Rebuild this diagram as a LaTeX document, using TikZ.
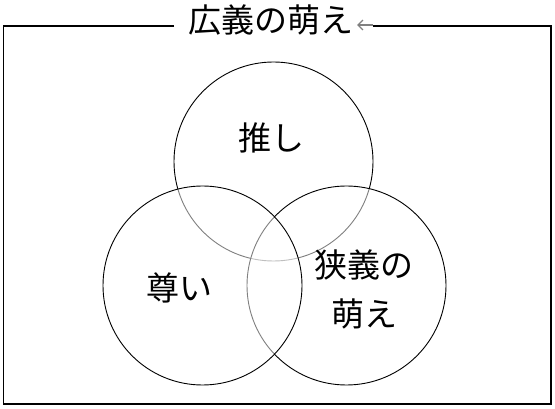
\documentclass[tikz,border=0pt]{standalone}
\usepackage{fontspec}
\newfontfamily\jp{Noto Sans CJK JP}
\usetikzlibrary{arrows.meta}
\tikzset{
  ring/.style={circle, draw=black, line width=0.9pt, minimum size=199pt, inner sep=0pt,
    fill=white, fill opacity=0.5, draw opacity=1},
  lbl/.style={font=\jp\fontsize{33}{49}\selectfont, text=black, inner sep=0pt, align=center},
  frame/.style={line width=1.2pt, line join=miter}
}
\begin{document}
\begin{tikzpicture}[x=1pt,y=-1pt]
\useasboundingbox (0,0) rectangle (555,409);
\coordinate (fl) at (174,26);
\coordinate (fr) at (373,26);
\coordinate (c1) at (3.5,26);
\coordinate (c2) at (3.5,404);
\coordinate (c3) at (551,404);
\coordinate (c4) at (551,26);
\coordinate (ae) at (357,25);
\draw[frame] (fl) -- (c1) -- (c2) -- (c3) -- (c4) -- (fr);
\draw[gray, line width=1.3pt, -{Straight Barb[length=5pt,width=10pt,line width=1.3pt]}] (fr |- ae) -- (ae);
\node[lbl] (title) at (270.5,20) {広義の萌え};
\node[ring] (top) at (273.5,161.5) {};
\node[ring] (right) at (346.5,285.5) {};
\node[ring] (left) at (202.5,285.5) {};
\node[lbl] (oshi) at (271.5,137.5) {推し};
\node[lbl] (toutoi) at (179.5,288) {尊い};
\node[lbl] (kyougi) at (364,289.5) {狭義の\\萌え};
\end{tikzpicture}
\end{document}
